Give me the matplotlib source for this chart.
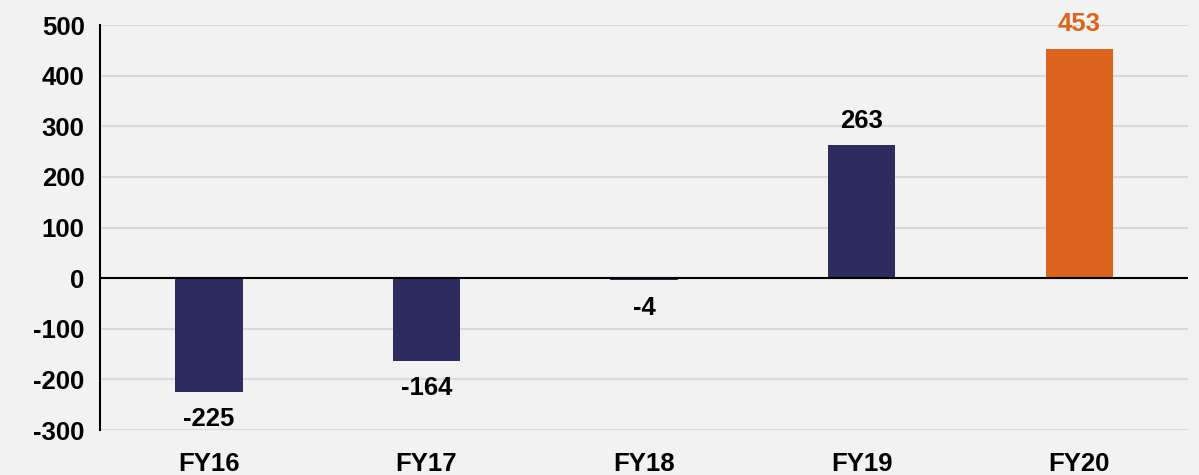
import matplotlib
matplotlib.use("Agg")
import matplotlib.pyplot as plt

years = ["FY16", "FY17", "FY18", "FY19", "FY20"]
values = [-225, -164, -4, 263, 453]
colors = ["#2e2b60", "#2e2b60", "#2e2b60", "#2e2b60", "#dc631d"]
label_colors = ["black", "black", "black", "black", "#dc631d"]

plt.rcParams['font.family'] = ['Liberation Sans', 'DejaVu Sans']
plt.rcParams['axes.unicode_minus'] = False

fig = plt.figure(figsize=(11.99, 4.75), dpi=100, facecolor="#f2f2f2")
ax = fig.add_axes([0.0834, 0.0947, 0.9076, 0.8523])
ax.set_facecolor("#f2f2f2")

x = range(len(years))
ax.bar(x, values, width=0.31, color=colors, zorder=3)

# value labels
for i, v in enumerate(values):
    if v >= 0:
        ax.annotate(str(v), (i, v), xytext=(0, 9), textcoords="offset points",
                    ha="center", va="bottom", fontsize=18.5, fontweight="bold",
                    color=label_colors[i])
    else:
        ax.annotate(str(v), (i, v), xytext=(0, -11), textcoords="offset points",
                    ha="center", va="top", fontsize=18.5, fontweight="bold",
                    color=label_colors[i])

ax.set_ylim(-300, 500)
ax.set_xlim(-0.5, 4.5)
ax.set_yticks(range(-300, 501, 100))
ax.set_xticks(list(x))
ax.set_xticklabels(years)
ax.yaxis.grid(True, color="#d9d9d9", linewidth=1.5, zorder=0)
ax.axhline(0, color="black", linewidth=1.5, zorder=4)

for s in ["top", "right", "bottom"]:
    ax.spines[s].set_visible(False)
ax.spines["left"].set_linewidth(1.5)
ax.tick_params(axis="y", length=0, labelsize=18.5, pad=11)
ax.tick_params(axis="x", length=0, labelsize=18.5, pad=16)
for lbl in ax.get_xticklabels() + ax.get_yticklabels():
    lbl.set_fontweight("bold")

fig.savefig("out.png", dpi=100, facecolor=fig.get_facecolor())
